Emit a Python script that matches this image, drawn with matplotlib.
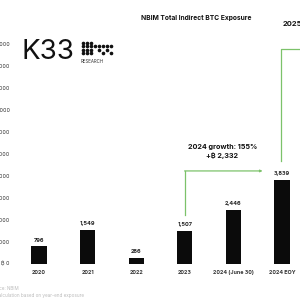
import matplotlib
matplotlib.use("Agg")
import matplotlib.pyplot as plt

plt.rcParams['font.family'] = ['Inter', 'DejaVu Sans']

# data
years = ["2020", "2021", "2022", "2023", "2024 (June 30)", "2024 EOY"]
btc = [796, 1549, 286, 1507, 2446, 3839]
value_labels = ["796", "1,549", "286", "1,507", "2,446", "3,839"]
yticks = list(range(0, 11000, 1000))
ytick_labels = ["₿ 0"] + [f"₿ {v:,}" for v in yticks[1:]]
growth_2024_text = "2024 growth: 155%"
growth_2024_btc = "+₿ 2,332"

GREEN = "#7cc26a"

fig = plt.figure(figsize=(3, 3), dpi=100)
ax = fig.add_axes([13 / 300, 0.12, 287 / 300, 0.88])
x = list(range(len(years)))
ax.bar(x, btc, width=0.31, color="#0b0b0b")
for xi, v, lab in zip(x, btc, value_labels):
    ax.text(xi, v + 170, lab, ha="center", va="bottom", fontsize=4,
            fontweight="bold", color="#222222")

ax.set_xlim(-0.535, 5.37)
ax.set_ylim(0, 12000)
ax.set_xticks(x)
ax.set_xticklabels(years, fontsize=3.9, fontweight="bold", color="#333333")
ax.set_yticks(yticks)
ax.set_yticklabels(ytick_labels, fontsize=3.9, color="#333333")
ax.tick_params(length=0, pad=2.5)
ax.tick_params(axis="x", pad=4)
for s in ax.spines.values():
    s.set_visible(False)
ax.axhline(0, color="#eeeeee", lw=0.6, zorder=0)

# 2024 growth bracket
ax.plot([3, 3], [2230, 4230], color=GREEN, lw=0.9)
ax.annotate("", xy=(4.6, 4230), xytext=(2.995, 4230),
            arrowprops=dict(arrowstyle="-|>", color=GREEN, lw=0.9,
                            mutation_scale=3, shrinkA=0, shrinkB=0))
ax.text(3.77, 5330, growth_2024_text, ha="center", va="center",
        fontsize=5.2, fontweight="bold", color="#111111")
ax.text(3.77, 4940, growth_2024_btc, ha="center", va="center",
        fontsize=5.2, fontweight="bold", color="#111111")

# 2025 bracket (cut off at the right edge)
ax.plot([4.98, 4.98, 5.6], [4700, 9780, 9780], color=GREEN, lw=0.9,
        clip_on=False)
ax.text(5.01, 10900, "2025", ha="left", va="center", fontsize=5.4,
        fontweight="bold", color="#111111")

# title
fig.text(196 / 300, 1 - 18 / 300, "NBIM Total Indirect BTC Exposure",
         ha="center", va="center", fontsize=4.8, fontweight="bold",
         color="#111111")

# K33 logo
fig.text(21 / 300, 1 - 52 / 300, "K33", ha="left", va="center",
         fontsize=20, color="#111111")
fig.text(81 / 300, 1 - 61.5 / 300, "RESEARCH", ha="left", va="center",
         fontsize=3.2, color="#333333")
dots = [
    [1, 1, 1, 0, 0, 0, 0, 0],
    [1, 1, 1, 1, 1, 1, 1, 1],
    [1, 1, 1, 0, 1, 0, 1, 0],
    [1, 1, 1, 0, 0, 1, 0, 1],
]
dx, dy = [], []
for r, row in enumerate(dots):
    for c, on in enumerate(row):
        if on:
            dx.append((83 + c * 4) / 300)
            dy.append(1 - (42.5 + r * 3.6) / 300)
fig.add_artist(plt.Line2D(dx, dy, transform=fig.transFigure, ls="none",
                          marker="o", ms=1.6, color="#111111"))

# footer
fig.text(19 / 300, 1 - 288 / 300, "Source: NBIM", ha="right", va="center",
         fontsize=3.3, color="#bbbbbb")
fig.text(84 / 300, 1 - 295 / 300, "*Calculation based on year-end exposure",
         ha="right", va="center", fontsize=3.3, color="#bbbbbb")

fig.savefig("out.png", dpi=100, facecolor="white")
